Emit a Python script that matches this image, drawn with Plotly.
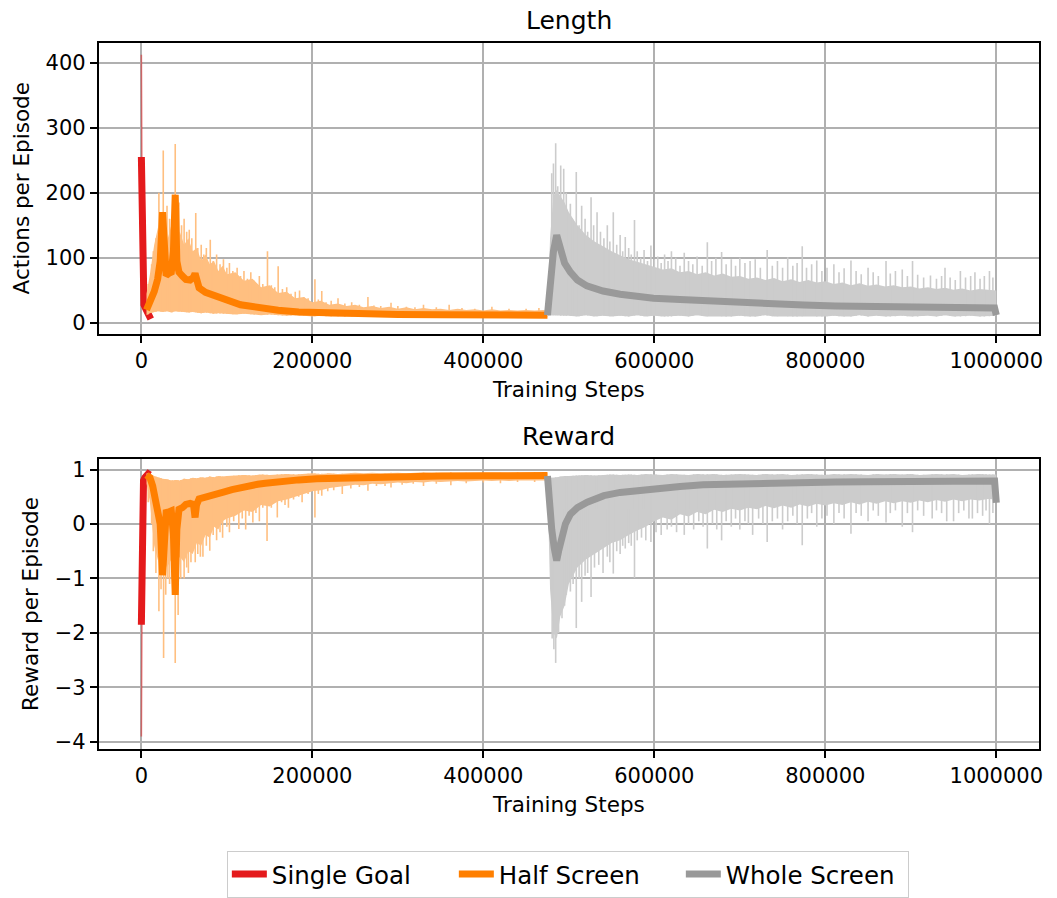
import numpy as np
import plotly.graph_objects as go

# ---------------- DATA ----------------
series_names = ["Single Goal", "Half Screen", "Whole Screen"]
x_ticks = [0, 200000, 400000, 600000, 800000, 1000000]
len_ticks = [0, 100, 200, 300, 400]
rew_ticks = [-4, -3, -2, -1, 0, 1]

# ---- Length (actions per episode) ----
single_len_raw_steps = [0, 200, 500, 1000, 2000, 3500, 6000, 9000, 11000]
single_len_raw = [412, 300, 220, 150, 60, 30, 22, 15, 8]
single_len_steps = [0, 400, 800, 1200, 1600, 2000, 3000, 5000, 7500, 10000, 11000]
single_len = [255, 230, 200, 170, 110, 60, 28, 22, 16, 8, 6]

half_band_steps = [6000] + list(range(10000, 100001, 5000)) + list(range(110000, 470001, 10000)) + [475000]
half_len_hi = [45,
               75, 120, 150, 140, 125, 150, 135, 140, 120, 130, 110, 115, 95, 105, 90, 95, 80, 88, 75,
               78, 65, 68, 55, 58, 46, 48, 38, 40, 32, 34, 28, 30, 26, 28, 24, 26, 23, 25, 22, 24, 21,
               23, 21, 22, 20, 22, 20, 21, 19, 21, 19, 20, 19, 20, 19, 20,
               19]
half_len_lo = [12,
               15, 17, 18, 17, 18, 16, 18, 17, 17, 16, 17, 16, 15, 16, 15, 14, 15, 14, 14,
               13, 14, 13, 12, 13, 12, 11, 12, 11, 10, 11, 10, 10, 9, 10, 9, 10, 9, 9, 10, 9, 9,
               10, 9, 9, 9, 10, 9, 9, 9, 9, 10, 9, 9, 9, 9, 9,
               9]
half_len_spike_steps = [8000, 12000, 14000, 17000, 20500, 23000, 25600, 28000, 30000, 33000, 36000, 39600,
                        42000, 44000, 47000, 50000, 53000, 56000, 59000, 63600, 66000, 70000, 73000, 76000,
                        80600, 84000, 88000, 92000, 96000, 100000, 103000, 107000, 112000, 116000, 120000,
                        124000, 128000, 132000, 138000, 142000, 147500, 152000, 156000, 160000, 165000,
                        170000, 175000, 180000, 185000, 190000, 195000, 203000, 207000, 211000, 216000,
                        222000, 230000, 238000, 246000, 255000, 265000, 272000, 280000, 292000, 300000,
                        310000, 320000, 330000, 345000, 360000, 375000, 390000, 410000, 430000, 450000, 465000]
half_len_spikes = [60, 90, 110, 130, 200, 160, 265, 170, 180, 160, 150, 275,
                   165, 185, 150, 160, 140, 143, 130, 169, 115, 120, 105, 115,
                   128, 95, 105, 90, 98, 85, 92, 80, 85, 72, 80,
                   68, 78, 65, 72, 60, 110, 58, 55, 87, 52,
                   55, 45, 48, 50, 40, 38, 67, 36, 49, 32,
                   34, 38, 30, 32, 28, 40, 27, 26, 31, 26,
                   25, 24, 28, 24, 28, 23, 22, 25, 22, 22, 23]
half_len_steps = [6000, 10000, 15000, 19000, 22000, 24800, 27000, 29000, 32000, 35000, 37500, 39600,
                  41500, 44000, 48000, 52000, 57000, 61000, 62800, 64500, 67500, 75000, 87000, 97000,
                  106000, 116000, 126000, 136000, 145000, 160000, 184000, 205000, 223000, 250000,
                  300000, 350000, 400000, 440000, 475000]
half_len = [20, 30, 48, 67, 95, 170, 100, 73, 76, 78, 110, 197, 95, 78, 72, 67, 66, 70, 76, 65, 54, 47,
            41.5, 36, 31, 28, 26, 24, 22, 19.5, 17, 16, 15, 14, 13, 12.5, 12, 12, 12]

whole_band_steps = [475000, 478000, 482000, 486000, 490000, 495000] + list(range(500000, 1000001, 10000))
whole_len_hi = [15, 130, 195, 205, 195, 185,
                170, 150, 135, 125, 118, 110, 104, 98, 94, 90,
                86, 82, 84, 78, 80, 75, 78, 73, 76, 71,
                72, 68, 70, 66, 69, 64, 67, 63, 66, 62,
                64, 60, 62, 58, 61, 57, 59, 56, 58, 55,
                56, 53, 55, 52, 54, 51, 53, 50, 52, 51,
                50]
whole_len_lo = [10, 12, 12, 12, 11, 11,
                11, 10, 12, 10, 11, 10, 11, 10, 12, 10,
                11, 10, 10, 11, 10, 12, 10, 11, 10, 10,
                11, 10, 10, 12, 10, 11, 10, 10, 11, 10,
                10, 11, 10, 10, 12, 10, 11, 10, 10, 11,
                10, 10, 11, 10, 12, 10, 10, 11, 10, 10,
                11]
whole_len_spike_steps = [480000, 482000, 484600, 487000, 490500, 494000, 497000, 501800, 504000, 508700,
                         512000, 515000, 519000, 522000, 526000, 529000, 533000, 537000, 541000, 545000,
                         548000, 552000, 556000, 560000, 563000, 566000, 570000, 573000, 576800, 580000,
                         584000, 588000, 592000, 596000, 600000, 604000, 608000, 612000, 616000, 620000,
                         625000, 630000, 635000, 640000, 645000, 650000, 656000, 662000, 667000, 672000,
                         678700, 684000, 690000, 695000, 700000, 706000, 712000, 718000, 724000, 732000,
                         738000, 744000, 750000, 756000, 762000, 767000, 773000, 778000, 784000, 790000,
                         796000, 802000, 810000, 816000, 822000, 830000, 836000, 842000, 850000, 856000,
                         862000, 871000, 876000, 882000, 890000, 896000, 902000, 908000, 915000, 923000,
                         930000, 936000, 940000, 946000, 952000, 958000, 964000, 970000, 975000, 981000,
                         986000, 992000, 996000]
whole_len_spikes = [230, 245, 276, 210, 242, 237, 200, 183, 160, 232,
                    150, 180, 160, 140, 193, 150, 170, 140, 130, 150,
                    125, 170, 120, 135, 110, 132, 115, 105, 158, 110,
                    100, 112, 95, 119, 98, 102, 92, 105, 95, 110,
                    100, 88, 108, 95, 90, 102, 88, 124, 95, 100,
                    109, 90, 98, 88, 100, 92, 95, 98, 85, 112,
                    88, 95, 85, 101, 88, 92, 118, 85, 90, 96,
                    80, 85, 90, 78, 84, 96, 80, 75, 85, 78,
                    72, 95, 76, 80, 82, 72, 95, 74, 70, 73,
                    68, 72, 85, 70, 66, 80, 70, 72, 78, 68,
                    72, 80, 70]
whole_len_steps = [475000, 478000, 482000, 485800, 488000, 491000, 495000, 501800, 510000, 521000, 540000,
                   560000, 579000, 599000, 630000, 657000, 696000, 735000, 775000, 812000, 850000, 890000,
                   950000, 998000, 1000000]
whole_len = [12, 60, 110, 135, 125, 108, 92, 78, 66, 57, 49, 44, 40, 38, 36, 34, 32, 29, 27.5, 26, 25,
             24.6, 24, 23, 12]

# ---- Reward (per episode) ----
single_rew_raw_steps = [0, 300, 800, 1500, 3000, 6000, 9000]
single_rew_raw = [-3.9, -1.8, -0.5, 0.6, 0.85, 0.92, 0.93]
single_rew_steps = [0, 200, 500, 800, 1200, 1600, 2500, 4000, 6000, 8000, 10000]
single_rew = [-1.85, -1.6, -1.43, -0.6, 0.4, 0.75, 0.8, 0.85, 0.9, 0.92, 0.9]

half_rew_hi = [0.93,
               0.92, 0.88, 0.85, 0.83, 0.82, 0.80, 0.81, 0.80, 0.83, 0.82, 0.85, 0.84, 0.86, 0.85, 0.87,
               0.86, 0.88, 0.87, 0.88,
               0.89, 0.9, 0.89, 0.91, 0.9, 0.91, 0.92, 0.91, 0.92, 0.93, 0.92, 0.93, 0.92, 0.93, 0.94,
               0.93, 0.94, 0.93, 0.94, 0.94, 0.93, 0.94, 0.95, 0.94, 0.94, 0.95, 0.94, 0.94, 0.95, 0.94,
               0.95, 0.94, 0.94, 0.95, 0.94, 0.95, 0.94,
               0.94]
half_rew_lo = [0.75,
               0.4, -0.4, -0.7, -0.6, -0.8, -0.65, -0.75, -0.6, -0.7, -0.5, -0.55, -0.35, -0.4, -0.2,
               -0.25, -0.05, -0.1, 0.05, 0.1,
               0.15, 0.25, 0.22, 0.35, 0.32, 0.42, 0.45, 0.5, 0.55, 0.6, 0.62, 0.66, 0.68, 0.7, 0.72,
               0.71, 0.74, 0.73, 0.75, 0.76, 0.75, 0.77, 0.76, 0.78, 0.77, 0.78, 0.79, 0.78, 0.79, 0.8,
               0.79, 0.8, 0.79, 0.8, 0.8, 0.81, 0.8,
               0.8]
half_rew_spike_steps = [8000, 12000, 14000, 17000, 20500, 23000, 26000, 28500, 31000, 33000, 36000, 39600,
                        41500, 43000, 46000, 50000, 53000, 55000, 58000, 63000, 66000, 69000, 72000, 76000,
                        80000, 84000, 88000, 92000, 95000, 100000, 103000, 108000, 114000, 118000, 122000,
                        126000, 130400, 134000, 138000, 142000, 147000, 152000, 159000, 164000, 168000,
                        172000, 178000, 184000, 188000, 195000, 203000, 207000, 211000, 218000, 225000,
                        235000, 245000, 255000, 265000, 275000, 285000, 292000, 305000, 318000, 330000,
                        345000, 362000, 380000, 400000, 420000, 440000, 460000]
half_rew_spikes = [0.4, 0.0, -0.5, -0.9, -1.6, -1.2, -2.46, -1.3, -1.0, -1.1, -1.0, -2.55,
                   -1.2, -1.67, -1.0, -1.0, -0.8, -0.9, -0.7, -0.70, -0.55, -0.6, -0.6, -0.4,
                   -0.49, -0.2, -0.3, -0.15, -0.25, -0.05, -0.15, 0.05, -0.09, 0.1, -0.1,
                   0.15, 0.03, 0.2, 0.05, 0.3, -0.31, 0.3, 0.12, 0.4, 0.35,
                   0.3, 0.45, 0.5, 0.4, 0.55, 0.12, 0.55, 0.52, 0.6, 0.62,
                   0.55, 0.65, 0.68, 0.61, 0.7, 0.7, 0.67, 0.72, 0.74, 0.7,
                   0.74, 0.71, 0.75, 0.76, 0.75, 0.77, 0.77]
half_rew_steps = [6000, 10000, 13200, 16000, 19000, 22000, 24800, 27000, 29000, 32000, 35000, 37500, 39600,
                  41500, 44000, 48000, 52000, 57000, 61000, 62800, 64500, 67500, 75000, 87000, 97000, 106000,
                  116000, 126000, 136000, 145000, 160000, 184000, 205000, 223000, 250000, 300000, 350000,
                  400000, 440000, 475000]
half_rew = [0.9, 0.85, 0.70, 0.5, 0.27, 0.0, -0.94, -0.1, 0.21, 0.22, 0.24, -0.2, -1.30, -0.1, 0.27, 0.3,
            0.36, 0.38, 0.36, 0.12, 0.35, 0.46, 0.5, 0.55, 0.59, 0.63, 0.67, 0.70, 0.73, 0.75, 0.78, 0.81,
            0.83, 0.84, 0.85, 0.87, 0.88, 0.885, 0.89, 0.89]

whole_rew_hi = [0.88, 0.85, 0.85, 0.86, 0.87, 0.88,
                0.88, 0.89, 0.9, 0.89, 0.9, 0.91, 0.9, 0.91, 0.9, 0.92,
                0.91, 0.9, 0.92, 0.91, 0.9, 0.92, 0.91, 0.92, 0.9, 0.91,
                0.92, 0.91, 0.9, 0.92, 0.91, 0.92, 0.9, 0.91, 0.92, 0.91,
                0.9, 0.92, 0.91, 0.92, 0.91, 0.9, 0.92, 0.91, 0.92, 0.91,
                0.92, 0.9, 0.91, 0.92, 0.91, 0.92, 0.9, 0.91, 0.92, 0.91,
                0.91]
whole_rew_lo = [0.8, -1.2, -2.0, -2.1, -1.7, -1.5,
                -1.1, -0.8, -0.65, -0.55, -0.45, -0.35, -0.3, -0.2, -0.12, -0.05,
                0.05, 0.12, 0.08, 0.18, 0.14, 0.22, 0.18, 0.26, 0.22, 0.28,
                0.25, 0.3, 0.27, 0.33, 0.29, 0.34, 0.3, 0.36, 0.32, 0.37,
                0.34, 0.38, 0.35, 0.4, 0.36, 0.41, 0.37, 0.42, 0.38, 0.42,
                0.39, 0.43, 0.4, 0.44, 0.41, 0.45, 0.42, 0.45, 0.43, 0.46,
                0.45]
whole_rew_spike_steps = [480500, 482500, 484600, 488000, 490000, 492000, 495000, 497000, 501800, 505000,
                         508700, 512000, 515000, 519000, 522000, 526000, 530000, 535000, 540000, 545000,
                         548000, 552000, 556000, 560000, 563000, 566000, 570000, 573000, 576800, 580000,
                         585000, 590000, 596000, 602000, 608000, 615000, 620000, 626000, 635000, 640000,
                         646000, 652000, 657000, 662000, 668000, 673000, 678700, 684000, 690000, 695000,
                         700000, 706000, 710000, 715000, 722000, 727000, 732000, 738000, 744000, 750000,
                         756000, 762000, 767000, 773000, 779000, 784000, 790000, 796000, 802000, 810000,
                         816000, 822000, 830000, 836000, 842000, 850000, 856000, 862000, 871000, 876000,
                         882000, 890000, 896000, 902000, 908000, 915000, 925000, 930000, 936000, 942000,
                         950000, 956000, 962000, 968000, 972000, 978000, 984000, 988000, 992000, 996000]
whole_rew_spikes = [-2.1, -2.3, -2.55, -2.0, -1.6, -1.73, -1.5, -1.3, -1.24, -1.1,
                    -1.91, -1.0, -1.43, -0.95, -0.9, -1.34, -0.8, -0.75, -0.9, -0.6,
                    -0.7, -0.91, -0.5, -0.55, -0.4, -0.45, -0.35, -0.4, -0.99, -0.3,
                    -0.25, -0.3, -0.33, -0.15, -0.2, -0.1, -0.05, -0.15, -0.2, 0.0,
                    -0.1, 0.05, -0.05, -0.45, 0.0, -0.1, -0.30, 0.05, -0.05, 0.1,
                    -0.1, 0.05, 0.0, -0.2, 0.1, 0.0, -0.33, 0.05, 0.1, -0.1,
                    0.05, 0.15, 0.0, -0.39, 0.1, 0.2, -0.05, 0.1, 0.15, 0.0,
                    0.2, 0.1, -0.18, 0.2, 0.15, 0.05, 0.25, 0.15, 0.03, 0.2,
                    0.25, -0.05, 0.2, -0.15, 0.25, 0.15, 0.1, 0.25, 0.2, 0.05,
                    0.05, 0.2, 0.25, 0.1, 0.1, 0.2, 0.15, 0.25, 0.0, 0.2]
whole_rew_steps = [475000, 477000, 480000, 483000, 485800, 488000, 492000, 496000, 501800, 510000, 521500,
                   541000, 560000, 580000, 599000, 630000, 657000, 700000, 735000, 775000, 812000, 850000,
                   890000, 950000, 998000, 1000000]
whole_rew = [0.88, 0.39, -0.1, -0.45, -0.67, -0.5, -0.21, 0.0, 0.18, 0.3, 0.40, 0.52, 0.58, 0.62, 0.65,
             0.69, 0.72, 0.74, 0.76, 0.765, 0.77, 0.775, 0.78, 0.785, 0.79, 0.39]

for a, b in [(half_band_steps, half_len_hi), (half_band_steps, half_len_lo), (half_band_steps, half_rew_hi),
             (half_band_steps, half_rew_lo), (whole_band_steps, whole_len_hi), (whole_band_steps, whole_len_lo),
             (whole_band_steps, whole_rew_hi), (whole_band_steps, whole_rew_lo),
             (half_len_spike_steps, half_len_spikes), (whole_len_spike_steps, whole_len_spikes),
             (half_rew_spike_steps, half_rew_spikes), (whole_rew_spike_steps, whole_rew_spikes),
             (half_len_steps, half_len), (whole_len_steps, whole_len), (half_rew_steps, half_rew),
             (whole_rew_steps, whole_rew)]:
    assert len(a) == len(b), (len(a), len(b))

# ---------------- STYLE ----------------
RED, ORANGE, GRAY = "#e41a1c", "#ff7f00", "#999999"
RED_L, ORANGE_L, GRAY_L = "rgba(228,26,28,0.5)", "#ffbf80", "#cccccc"
FONT = "DejaVu Sans"
W, H = 1057, 898
x_dom = [99 / W, 1043 / W]
y_top = [1 - 335 / H, 1 - 42 / H]
y_bot = [1 - 753 / H, 1 - 461 / H]

fig = go.Figure()


def band(steps, hi, lo, color, xa, ya):
    fig.add_trace(go.Scatter(x=list(steps) + list(steps)[::-1], y=list(hi) + list(lo)[::-1],
                             fill="toself", fillcolor=color, line=dict(width=0), mode="lines",
                             hoverinfo="skip", showlegend=False, xaxis=xa, yaxis=ya))


def spikes(steps, vals, band_steps, base_arr, color, xa, ya):
    xs, ys = [], []
    for s, v in zip(steps, vals):
        b = float(np.interp(s, band_steps, base_arr))
        xs += [s, s, None]
        ys += [b, v, None]
    fig.add_trace(go.Scatter(x=xs, y=ys, mode="lines", line=dict(color=color, width=1.6),
                             hoverinfo="skip", showlegend=False, xaxis=xa, yaxis=ya))


def line(steps, vals, color, width, xa, ya, name=None, legend=False):
    fig.add_trace(go.Scatter(x=steps, y=vals, mode="lines", name=name, legendgroup=name,
                             line=dict(color=color, width=width), showlegend=legend,
                             xaxis=xa, yaxis=ya))


LW = 7
# Top: length
line(single_len_raw_steps, single_len_raw, RED_L, 1.6, "x", "y")
line(single_len_steps, single_len, RED, LW, "x", "y", series_names[0], True)
band(half_band_steps, half_len_hi, half_len_lo, ORANGE_L, "x", "y")
spikes(half_len_spike_steps, half_len_spikes, half_band_steps, half_len_lo, ORANGE_L, "x", "y")
line(half_len_steps, half_len, ORANGE, LW, "x", "y", series_names[1], True)
band(whole_band_steps, whole_len_hi, whole_len_lo, GRAY_L, "x", "y")
spikes(whole_len_spike_steps, whole_len_spikes, whole_band_steps, whole_len_lo, GRAY_L, "x", "y")
line(whole_len_steps, whole_len, GRAY, LW, "x", "y", series_names[2], True)

# Bottom: reward
line(single_rew_raw_steps, single_rew_raw, RED_L, 1.6, "x2", "y2")
line(single_rew_steps, single_rew, RED, LW, "x2", "y2", series_names[0])
band(half_band_steps, half_rew_hi, half_rew_lo, ORANGE_L, "x2", "y2")
spikes(half_rew_spike_steps, half_rew_spikes, half_band_steps, half_rew_hi, ORANGE_L, "x2", "y2")
line(half_rew_steps, half_rew, ORANGE, LW, "x2", "y2", series_names[1])
band(whole_band_steps, whole_rew_hi, whole_rew_lo, GRAY_L, "x2", "y2")
spikes(whole_rew_spike_steps, whole_rew_spikes, whole_band_steps, whole_rew_hi, GRAY_L, "x2", "y2")
line(whole_rew_steps, whole_rew, GRAY, LW, "x2", "y2", series_names[2])

axis_common = dict(showgrid=True, gridcolor="#b0b0b0", gridwidth=1.6, zeroline=False,
                   showline=True, linecolor="black", linewidth=1.6, mirror=True,
                   ticks="outside", ticklen=7, tickwidth=1.6, tickcolor="black",
                   tickfont=dict(family=FONT, size=21, color="black"))
xcommon = dict(axis_common, range=[-50000, 1050000], tickvals=x_ticks,
               ticktext=[str(v) for v in x_ticks], domain=x_dom)
TF = dict(family=FONT, size=21.5, color="black")

fig.update_layout(
    width=W, height=H, margin=dict(l=0, r=0, t=0, b=0),
    paper_bgcolor="white", plot_bgcolor="white",
    font=dict(family=FONT, size=21, color="black"),
    xaxis=dict(xcommon, anchor="y", title=dict(text="Training Steps", font=TF, standoff=10)),
    yaxis=dict(axis_common, domain=y_top, range=[-16.6, 430.5], tickvals=len_ticks, anchor="x",
               title=dict(text="Actions per Episode", font=TF, standoff=10)),
    xaxis2=dict(xcommon, anchor="y2", title=dict(text="Training Steps", font=TF, standoff=10)),
    yaxis2=dict(axis_common, domain=y_bot, range=[-4.13, 1.195], tickvals=rew_ticks, anchor="x2",
                title=dict(text="Reward per Episode", font=TF, standoff=10)),
    legend=dict(orientation="h", x=570 / W, xanchor="center", y=1 - 879 / H, yanchor="middle",
                bordercolor="#cccccc", borderwidth=1, bgcolor="white", itemwidth=35,
                font=dict(family=FONT, size=24.5, color="black"), entrywidth=177),
    annotations=[
        dict(text="Length", x=(x_dom[0] + x_dom[1]) / 2, y=1 - 20 / H, xref="paper", yref="paper",
             showarrow=False, font=dict(family=FONT, size=25, color="black"), yanchor="middle"),
        dict(text="Reward", x=(x_dom[0] + x_dom[1]) / 2, y=1 - 438 / H, xref="paper", yref="paper",
             showarrow=False, font=dict(family=FONT, size=25, color="black"), yanchor="middle"),
    ],
)

fig.write_html("out.html")
